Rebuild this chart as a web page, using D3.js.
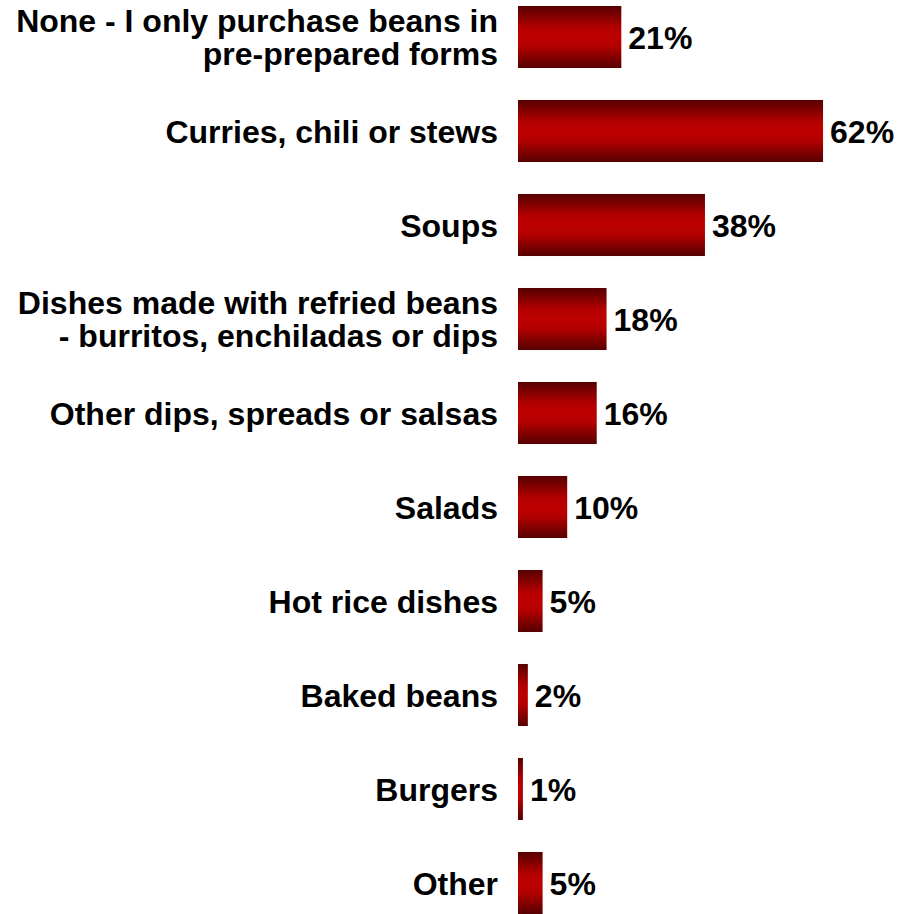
<!DOCTYPE html>
<html>
<head>
<meta charset="utf-8">
<script src="https://cdn.jsdelivr.net/npm/d3@7"></script>
<style>
  html, body { margin: 0; padding: 0; background: #ffffff; }
  svg { display: block; }
</style>
</head>
<body>
<div id="chart"></div>
<script>
const categories = [
  ["None - I only purchase beans in", "pre-prepared forms"],
  ["Curries, chili or stews"],
  ["Soups"],
  ["Dishes made with refried beans", "- burritos, enchiladas or dips"],
  ["Other dips, spreads or salsas"],
  ["Salads"],
  ["Hot rice dishes"],
  ["Baked beans"],
  ["Burgers"],
  ["Other"]
];
const values = [21, 62, 38, 18, 16, 10, 5, 2, 1, 5];
const valueLabels = ["21%", "62%", "38%", "18%", "16%", "10%", "5%", "2%", "1%", "5%"];

const W = 918, H = 914;
const svg = d3.select("#chart").append("svg").attr("width", W).attr("height", H);

const defs = svg.append("defs");
const grad = defs.append("linearGradient").attr("id", "barGrad")
  .attr("x1", 0).attr("y1", 0).attr("x2", 0).attr("y2", 1);
[[0, "#560000"], [0.35, "#b40000"], [0.5, "#bd0000"], [0.65, "#b40000"], [1, "#560000"]]
  .forEach(([o, c]) => grad.append("stop").attr("offset", o).attr("stop-color", c));

const keys = categories.map((d, i) => i);
const y = d3.scaleBand().domain(keys).range([-10, 930]).paddingInner(0.34).paddingOuter(0.17);
const x = d3.scaleLinear().domain([0, 100]).range([518, 1010]);

const font = "'Liberation Sans', Arial, sans-serif";
const fs = 32;

const g = svg.append("g");

g.selectAll("rect.bar").data(values).enter().append("rect")
  .attr("class", "bar")
  .attr("x", x(0))
  .attr("y", (d, i) => y(i))
  .attr("width", d => x(d) - x(0))
  .attr("height", y.bandwidth())
  .attr("fill", "url(#barGrad)");

g.selectAll("text.val").data(values).enter().append("text")
  .attr("class", "val")
  .attr("x", d => x(d) + 7)
  .attr("y", (d, i) => y(i) + y.bandwidth() / 2 + fs * 0.36)
  .attr("font-family", font).attr("font-weight", "bold").attr("font-size", fs)
  .attr("fill", "#000")
  .text((d, i) => valueLabels[i]);

const lineH = 33;
const lab = g.selectAll("text.cat").data(categories).enter().append("text")
  .attr("class", "cat")
  .attr("text-anchor", "end")
  .attr("font-family", font).attr("font-weight", "bold").attr("font-size", fs)
  .attr("fill", "#000");
lab.each(function(lines, i) {
  const cy = y(i) + y.bandwidth() / 2 + fs * 0.36;
  const n = lines.length;
  lines.forEach((t, j) => {
    d3.select(this).append("tspan")
      .attr("x", 498)
      .attr("y", cy + (j - (n - 1) / 2) * lineH)
      .text(t);
  });
});
</script>
</body>
</html>
